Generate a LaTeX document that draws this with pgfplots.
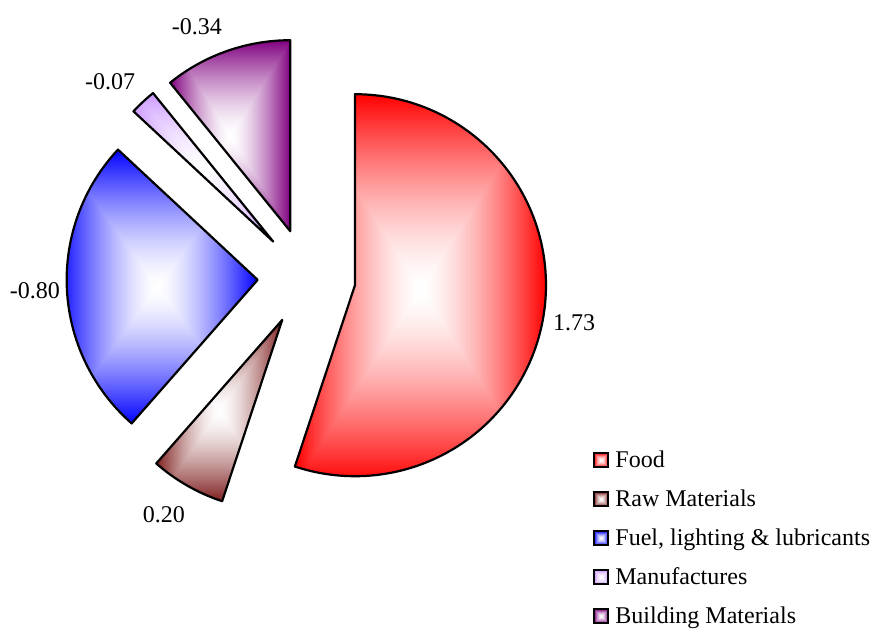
\documentclass[border=0pt]{standalone}
\usepackage{fontspec}
\setmainfont{Liberation Serif}
\usepackage{pgfplots}
\usepackage{pgfplotstable}
\pgfplotsset{compat=1.18}

% box ("rectangle") gradient: white centre -> colour at bbox edges
% (the +-25bp square is fitted to the path's bounding box)
\newcommand\declarebox[4]{%
  \pgfdeclarefunctionalshading{#1}{\pgfpoint{-50bp}{-50bp}}{\pgfpoint{50bp}{50bp}}{}{%
    abs exch abs 2 copy sub abs add add 50 div
    dup 1 sub abs sub 1 add 2 div
    dup sqrt mul
    dup #2 mul 1 exch sub exch
    dup #3 mul 1 exch sub exch
    #4 mul 1 exch sub
  }%
}
% arguments: name, 1-r, 1-g, 1-b
\declarebox{box0}{0}{1}{1}        % Food (255,0,0)
\declarebox{box1}{0.5}{0.88}{0.88}% Raw Materials (128,30,30)
\declarebox{box2}{1}{1}{0}        % Fuel (0,0,255)
\declarebox{box3}{0.2}{0.4}{0}    % Manufactures (204,153,255)
\declarebox{box4}{0.5}{1}{0.5}    % Building Materials (128,0,128)

% value, label nudge (dx, dy in axis units)
\pgfplotstableread{
value dx dy
1.73  -4  -1
0.20  -6   1
-0.80  3   0
-0.07 -9  -5
-0.34 -18 -9
}\piedata

\expandafter\def\csname nm0\endcsname{Food}
\expandafter\def\csname nm1\endcsname{Raw Materials}
\expandafter\def\csname nm2\endcsname{Fuel, lighting \& lubricants}
\expandafter\def\csname nm3\endcsname{Manufactures}
\expandafter\def\csname nm4\endcsname{Building Materials}

% geometry (axis units = reference pixels, y upwards)
\def\cx{306.6}\def\cy{351.6}\def\ex{49}\def\ld{226}

\xdef\total{0}
\foreach \i in {0,...,4}{%
  \pgfplotstablegetelem{\i}{value}\of\piedata
  \pgfmathsetmacro\t{\total+abs(\pgfplotsretval)}%
  \xdef\total{\t}%
}
\xdef\cur{90}
\foreach \i in {0,...,4}{%
  \pgfplotstablegetelem{\i}{dx}\of\piedata \let\dx\pgfplotsretval
  \pgfplotstablegetelem{\i}{dy}\of\piedata \let\dy\pgfplotsretval
  \pgfplotstablegetelem{\i}{value}\of\piedata
  \let\v\pgfplotsretval
  \pgfmathsetmacro\ang{360*abs(\v)/\total}%
  \pgfmathsetmacro\en{\cur-\ang}%
  \pgfmathsetmacro\md{\cur-\ang/2}%
  \pgfmathsetmacro\ax{\cx+\ex*cos(\md)}%
  \pgfmathsetmacro\ay{\cy+\ex*sin(\md)}%
  \pgfmathsetmacro\lx{\ax+\ld*cos(\md)+\dx}%
  \pgfmathsetmacro\ly{\ay+\ld*sin(\md)+\dy}%
  \expandafter\xdef\csname s\i\endcsname{\cur}%
  \expandafter\xdef\csname e\i\endcsname{\en}%
  \expandafter\xdef\csname ax\i\endcsname{\ax}%
  \expandafter\xdef\csname ay\i\endcsname{\ay}%
  \expandafter\xdef\csname lx\i\endcsname{\lx}%
  \expandafter\xdef\csname ly\i\endcsname{\ly}%
  \expandafter\xdef\csname lab\i\endcsname{\v}%
  \xdef\cur{\en}%
}

\begin{document}
\begin{tikzpicture}
\begin{axis}[
  width=438pt, height=314.5pt, scale only axis,
  xmin=0, xmax=876, ymin=0, ymax=629,
  hide axis, clip=false,
]
\path (axis cs:0,0) -- (axis cs:876,629);
\pgfplotsinvokeforeach{0,...,4}{%
  \shadedraw[shading=box#1, draw=black, line width=1.1pt, line join=round]
    (axis cs:\csname ax#1\endcsname,\csname ay#1\endcsname)
    -- ++(\csname s#1\endcsname:95.5pt)
    arc[start angle=\csname s#1\endcsname, end angle=\csname e#1\endcsname, radius=95.5pt]
    -- cycle;
  \node[font=\fontsize{12}{14}\selectfont, inner sep=0pt]
    at (axis cs:\csname lx#1\endcsname,\csname ly#1\endcsname) {\csname lab#1\endcsname};
  \shadedraw[shading=box#1, draw=black, line width=0.9pt]
    (axis cs:594,{629-453-39*#1}) rectangle (axis cs:608,{629-467-39*#1});
  \node[font=\fontsize{12}{14}\selectfont, inner sep=0pt, anchor=base west]
    at (axis cs:615,{629-467-39*#1}) {\csname nm#1\endcsname};
}
\end{axis}
\end{tikzpicture}
\end{document}
